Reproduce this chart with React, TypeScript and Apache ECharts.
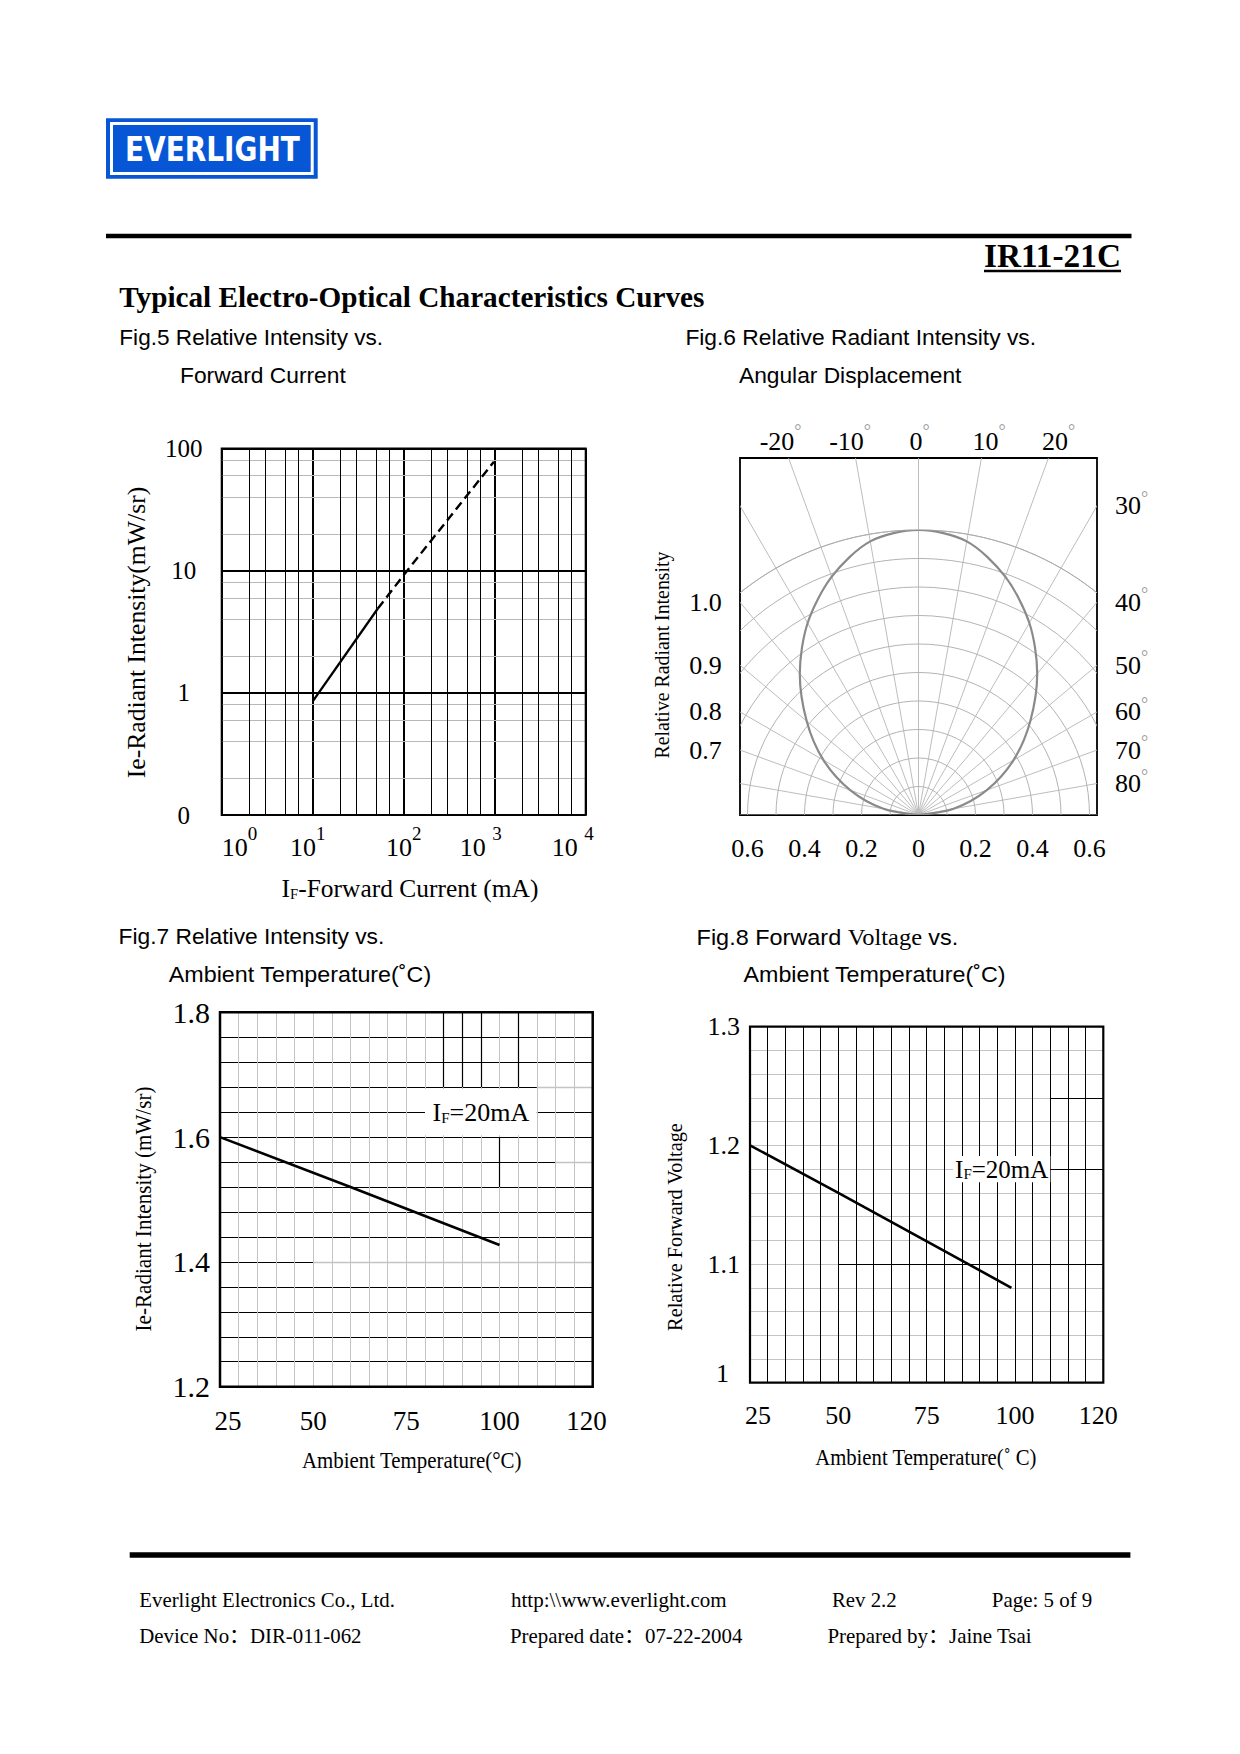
import React, { useEffect, useRef } from "react";
import * as echarts from "echarts";

const SERIF = "'Liberation Serif', 'Noto Sans CJK SC', serif";
const SANS = "'Liberation Sans', 'Noto Sans CJK SC', sans-serif";
const LOGO = "'DejaVu Sans', sans-serif";

// ---------- Fig.5 data ----------
const fig5XTicks = [1, 10, 100, 1000, 10000];
const fig5XExp = ["0", "1", "2", "3", "4"];
const fig5YTicks = [0.1, 1, 10, 100];
const fig5YLabels = ["0", "1", "10", "100"];
const fig5MinorXMult = [2, 3, 5, 7];
const fig5MinorYMult = [2, 4, 6, 8];
const fig5SolidIf = [10, 52];
const fig5SolidIe = [0.85, 4.9];
const fig5DashIf = [52, 100, 980];
const fig5DashIe = [4.9, 9.2, 78];

// ---------- Fig.6 data ----------
const fig6Angle = [0, 10, 20, 30, 40, 50, 60, 70, 80, 90];
const fig6Rel = [1.0, 0.975, 0.89, 0.778, 0.648, 0.512, 0.385, 0.255, 0.125, 0];
const fig6TopAngles = [-20, -10, 0, 10, 20];
const fig6SideAngles = [30, 40, 50, 60, 70, 80];
const fig6LeftLabels = ["1.0", "0.9", "0.8", "0.7"];
const fig6LeftAngles = [40, 50, 60, 70];
const fig6BottomVals = [-0.6, -0.4, -0.2, 0, 0.2, 0.4, 0.6];

// ---------- Fig.7 data ----------
const fig7Temp = [25, 60, 100];
const fig7Ie = [1.6, 1.52, 1.427];
const fig7XTicks = [25, 50, 75, 100, 120];
const fig7YTicks = [1.2, 1.4, 1.6, 1.8];

// ---------- Fig.8 data ----------
const fig8Temp = [25, 50, 99];
const fig8Vf = [1.2, 1.16, 1.08];
const fig8XTicks = [25, 50, 75, 100, 120];
const fig8YTicks = [1.0, 1.1, 1.2, 1.3];

// ---------- layout ----------
const G5 = { left: 221.7, top: 448.5, width: 364, height: 366.5 };
const G7 = { left: 220, top: 1012.3, width: 372.7, height: 374.4 };
const G8 = { left: 750, top: 1026.7, width: 353.3, height: 356 };
const P6 = { left: 740, top: 458, size: 357, r1: 285 };

// grid styling quirks of the original sheet
const fig7DarkV = [[85, 1.68, 1.8], [90, 1.68, 1.8], [95, 1.68, 1.8], [105, 1.68, 1.8], [100, 1.52, 1.6]];
const fig7LightH = [[1.4, 50, 125], [1.68, 110, 125], [1.56, 115, 125]];
const fig8DarkH = [[1.24, 110, 125], [1.18, 110, 125], [1.1, 50, 125]];

let ctx2d: any = null;
function measure(text: string, size: number, family: string, weight = "normal") {
  if (!ctx2d) ctx2d = document.createElement("canvas").getContext("2d");
  ctx2d.font = `${weight} ${size}px ${family}`;
  return ctx2d.measureText(text).width;
}

function txt(text: string, x: number, y: number, size: number, family: string, o: any = {}) {
  const weight = o.weight || "normal";
  const align = o.align || "left";
  const sx = o.w ? o.w / measure(text, size, family, weight) : 1;
  return {
    type: "text", x, y, z: 100, silent: true, rotation: o.rot || 0, scaleX: sx,
    style: {
      text, fontSize: size, fontFamily: family, fontWeight: weight, fill: o.fill || "#000",
      align, verticalAlign: "middle", textAlign: align, textVerticalAlign: "middle",
    },
  };
}

function richTxt(tokens: any[], x: number, y: number, o: any = {}) {
  const total = tokens.reduce((s, tk) => s + measure(tk.t, tk.size, tk.family, tk.weight || "normal"), 0);
  const sx = o.w ? o.w / total : 1;
  const rs: any = {};
  tokens.forEach((tk) => {
    rs[tk.k] = {
      fontSize: tk.size, fontFamily: tk.family, lineHeight: tk.lh, verticalAlign: tk.va || "middle",
      fill: tk.fill || "#000", color: tk.fill || "#000",
    };
  });
  const align = o.align || "left";
  return {
    type: "text", x, y, z: 100, silent: true, rotation: o.rot || 0, scaleX: sx,
    style: {
      text: tokens.map((tk) => `{${tk.k}|${tk.t}}`).join(""), rich: rs,
      align, verticalAlign: "middle", textAlign: align, textVerticalAlign: "middle",
    },
  };
}

function rect(x: number, y: number, w: number, h: number, style: any) {
  return { type: "rect", z: 99, silent: true, shape: { x, y, width: w, height: h }, style };
}
function line(x1: number, y1: number, x2: number, y2: number, lw: number, color = "#000") {
  return { type: "line", z: 99, silent: true, shape: { x1, y1, x2, y2 }, style: { stroke: color, lineWidth: lw } };
}

// number with a small grey degree ring at its upper right
function degLabel(num: string, x: number, y: number, align: string, ringDy: number) {
  const w = measure(num, 26, SERIF);
  const left = align === "center" ? x - w / 2 : x;
  return [
    txt(num, x, y, 26, SERIF, { align }),
    txt("°", left + w, y + ringDy + 4, 18, SERIF, { fill: "#9a9a9a" }),
  ];
}

const near = (arr: number[], v: number) => arr.findIndex((t) => Math.abs(t - v) < 1e-6);

function buildMain() {
  const d = Math.PI / 180;
  const cx = P6.left + P6.size / 2;
  const by = P6.top + P6.size;
  const W = P6.size / 2;

  const minorX: number[] = [];
  [1, 10, 100, 1000].forEach((dec) => fig5MinorXMult.forEach((m) => minorX.push(dec * m)));
  const minorY: number[] = [];
  [0.1, 1, 10].forEach((dec) => fig5MinorYMult.forEach((m) => minorY.push(+(dec * m).toFixed(4))));

  const graphics: any[] = [];
  // logo
  graphics.push(rect(106, 118.3, 211.7, 60.4, { fill: "#0756d6" }));
  graphics.push(rect(111.5, 123.5, 200.7, 50, { fill: "none", stroke: "#fff", lineWidth: 3 }));
  graphics.push(txt("EVERLIGHT", 125, 149.2, 34, LOGO, { weight: "bold", w: 175, fill: "#fff" }));
  // header
  graphics.push(line(106, 236, 1131.5, 236, 4.5));
  graphics.push(txt("IR11-21C", 984, 256, 33, SERIF, { weight: "bold", w: 137 }));
  graphics.push(line(984, 271, 1121, 271, 2.5));
  graphics.push(txt("Typical Electro-Optical Characteristics Curves", 119.3, 297.5, 29, SERIF, { weight: "bold", w: 585 }));
  graphics.push(txt("Fig.5 Relative Intensity vs.", 119.3, 337.6, 22.5, SANS, { w: 264 }));
  graphics.push(txt("Forward Current", 180, 375.7, 22.5, SANS, { w: 166 }));
  graphics.push(txt("Fig.6 Relative Radiant Intensity vs.", 685.4, 337.6, 22.5, SANS, { w: 351 }));
  graphics.push(txt("Angular Displacement", 739, 375.7, 22.5, SANS, { w: 222.5 }));
  graphics.push(txt("Fig.7 Relative Intensity vs.", 118.5, 937, 22.5, SANS, { w: 266 }));
  graphics.push(txt("Ambient Temperature(˚C)", 168.8, 974, 22.5, SANS, { w: 263 }));
  graphics.push(
    richTxt(
      [
        { k: "a", t: "Fig.8 Forward ", size: 22.5, family: SANS, lh: 26 },
        { k: "b", t: "Voltage ", size: 23.5, family: SERIF, lh: 26 },
        { k: "a", t: "vs.", size: 22.5, family: SANS, lh: 26 },
      ],
      696.6, 937, { w: 261.6 }
    )
  );
  graphics.push(txt("Ambient Temperature(˚C)", 743.5, 974, 22.5, SANS, { w: 262.8 }));

  // axis names
  graphics.push(txt("Ie-Radiant Intensity(mW/sr)", 136.7, 632.5, 26, SERIF, { rot: Math.PI / 2, align: "center", w: 291.7 }));
  graphics.push(
    richTxt(
      [
        { k: "i", t: "I", size: 26, family: SERIF, lh: 26, va: "bottom" },
        { k: "f", t: "F", size: 15, family: SERIF, lh: 19, va: "bottom" },
        { k: "i", t: "-Forward Current (mA)", size: 26, family: SERIF, lh: 26, va: "bottom" },
      ],
      410, 888, { align: "center", w: 257 }
    )
  );
  graphics.push(txt("Relative Radiant Intensity", 661.7, 655, 21, SERIF, { rot: Math.PI / 2, align: "center", w: 207 }));
  graphics.push(txt("Ie-Radiant Intensity (mW/sr)", 143.3, 1209, 23, SERIF, { rot: Math.PI / 2, align: "center", w: 245 }));
  graphics.push(txt("Ambient Temperature(°C)", 411.7, 1460, 24, SERIF, { align: "center", w: 220 }));
  graphics.push(txt("Relative Forward Voltage", 675, 1227, 22, SERIF, { rot: Math.PI / 2, align: "center", w: 208.3 }));
  graphics.push(txt("Ambient Temperature(˚ C)", 925.8, 1457, 24, SERIF, { align: "center", w: 221.7 }));

  // fig6 labels (top angle labels are spaced evenly, about 6.95 px per degree)
  fig6TopAngles.forEach((a) => graphics.push(...degLabel(String(a), cx - 2.5 + a * 6.95, 441, "center", -14)));
  fig6SideAngles.forEach((a) => graphics.push(...degLabel(String(a), 1115, by - W / Math.tan(a * d), "left", -12)));
  fig6LeftLabels.forEach((s, i) =>
    graphics.push(txt(s, 721.7, by - W / Math.tan(fig6LeftAngles[i] * d), 26, SERIF, { align: "right" }))
  );
  fig6BottomVals.forEach((v) =>
    graphics.push(txt(v === 0 ? "0" : Math.abs(v).toFixed(1), cx + v * P6.r1, 848.3, 26, SERIF, { align: "center" }))
  );

  // plot frames
  graphics.push(rect(G5.left, G5.top, G5.width, G5.height, { fill: "none", stroke: "#000", lineWidth: 2 }));
  graphics.push(rect(P6.left, P6.top, P6.size, P6.size, { fill: "none", stroke: "#000", lineWidth: 1.8 }));
  graphics.push(rect(G7.left, G7.top, G7.width, G7.height, { fill: "none", stroke: "#000", lineWidth: 2.5 }));
  graphics.push(rect(G8.left, G8.top, G8.width, G8.height, { fill: "none", stroke: "#000", lineWidth: 2.2 }));

  // footer
  graphics.push(line(129.7, 1555, 1130.4, 1555, 5.5));
  graphics.push(txt("Everlight Electronics Co., Ltd.", 139.3, 1600, 20.5, SERIF, { w: 255.7 }));
  graphics.push(txt("Device No：DIR-011-062", 139.3, 1636, 20.5, SERIF, { w: 222.3 }));
  graphics.push(txt("http:\\\\www.everlight.com", 511, 1600, 20.5, SERIF, { w: 215.8 }));
  graphics.push(txt("Prepared date：07-22-2004", 509.9, 1636, 20.5, SERIF, { w: 232.5 }));
  graphics.push(txt("Rev 2.2", 831.9, 1600, 20.5, SERIF, { w: 64.8 }));
  graphics.push(txt("Page: 5 of 9", 991.8, 1600, 20.5, SERIF, { w: 100.6 }));
  graphics.push(txt("Prepared by：Jaine Tsai", 827.4, 1636, 20.5, SERIF, { w: 204.6 }));

  const off = { axisLine: { show: false }, axisTick: { show: false } };
  const mlBase = { silent: true, symbol: ["none", "none"], label: { show: false }, animation: false, emphasis: { disabled: true } };
  const ifLabel = (size: number) => ({
    show: true, position: "inside", color: "#000",
    formatter: () => "{i|I}{f|F}{t|=20mA}",
    rich: {
      i: { fontSize: size, fontFamily: SERIF, lineHeight: size, verticalAlign: "bottom", color: "#000" },
      f: { fontSize: 15, fontFamily: SERIF, lineHeight: 19, verticalAlign: "bottom", color: "#000" },
      t: { fontSize: size, fontFamily: SERIF, lineHeight: size, verticalAlign: "bottom", color: "#000" },
    },
  });
  // temperature tick labels: the first and the 120 labels sit a little to the right in the original
  const tempLabel = (ticks: number[], size: number) => ({
    formatter: (v: number) => {
      if (near(ticks, v) < 0) return "";
      const s = String(Math.round(v));
      if (Math.abs(v - 25) < 1e-6) return `{l|${s}}`;
      if (Math.abs(v - 120) < 1e-6) return `{r|${s}}`;
      return `{n|${s}}`;
    },
    rich: {
      n: { fontSize: size, fontFamily: SERIF, color: "#000" },
      l: { fontSize: size, fontFamily: SERIF, color: "#000", padding: [0, 0, 0, 16] },
      r: { fontSize: size, fontFamily: SERIF, color: "#000", padding: [0, 0, 0, 25] },
    },
  });
  const expRich = (pad: number) => ({ fontSize: 19, fontFamily: SERIF, lineHeight: 14, verticalAlign: "top", color: "#000", padding: [0, pad, 0, 0] });

  return {
    animation: false,
    backgroundColor: "#fff",
    grid: [
      { ...G5, show: false, outerBoundsMode: "none" },
      { ...G7, show: false, outerBoundsMode: "none" },
      { ...G8, show: false, outerBoundsMode: "none" },
    ],
    xAxis: [
      {
        gridIndex: 0, type: "log", logBase: 10, min: 1, max: 10000, ...off,
        splitLine: { show: true, lineStyle: { color: "#000", width: 2 } },
        axisLabel: {
          color: "#000", margin: 9, alignMinLabel: "left", alignMaxLabel: "center",
          formatter: (v: number) => {
            const i = fig5XTicks.findIndex((t) => Math.abs(Math.log10(t) - Math.log10(v)) < 0.01);
            if (i < 0) return "";
            const sk = i === 1 ? "s1" : i === 3 ? "s3" : i === 4 ? "s4" : "s";
            return (i >= 3 ? "{b|10 }" : "{b|10}") + `{${sk}|${fig5XExp[i]}}`;
          },
          rich: {
            b: { fontSize: 26, fontFamily: SERIF, lineHeight: 46, verticalAlign: "middle", color: "#000" },
            s: expRich(0),
            s1: expRich(10),
            s3: expRich(28),
            s4: expRich(26),
          },
        },
      },
      {
        gridIndex: 1, type: "value", min: 25, max: 125, interval: 5, ...off,
        splitLine: { show: true, lineStyle: { color: "#c4c4c4", width: 1 } },
        axisLabel: { color: "#000", fontSize: 27, fontFamily: SERIF, margin: 21, ...tempLabel(fig7XTicks, 27) },
      },
      {
        gridIndex: 2, type: "value", min: 25, max: 125, interval: 5, ...off,
        splitLine: { show: true, lineStyle: { color: "#000", width: 1 } },
        axisLabel: { color: "#000", fontSize: 26, fontFamily: SERIF, margin: 20, ...tempLabel(fig8XTicks, 26) },
      },
    ],
    yAxis: [
      {
        gridIndex: 0, type: "log", logBase: 10, min: 0.1, max: 100, ...off,
        splitLine: { show: true, lineStyle: { color: "#000", width: 2 } },
        axisLabel: {
          color: "#000", fontSize: 25, fontFamily: SERIF, margin: 38, align: "center",
          formatter: (v: number) => {
            const i = fig5YTicks.findIndex((t) => Math.abs(Math.log10(t) - Math.log10(v)) < 0.01);
            return i < 0 ? "" : fig5YLabels[i];
          },
        },
      },
      {
        gridIndex: 1, type: "value", min: 1.2, max: 1.8, interval: 0.04, ...off,
        splitLine: { show: true, lineStyle: { color: "#000", width: 1 } },
        axisLabel: {
          color: "#000", fontSize: 30, fontFamily: SERIF, margin: 10,
          formatter: (v: number) => (near(fig7YTicks, v) >= 0 ? v.toFixed(1) : ""),
        },
      },
      {
        gridIndex: 2, type: "value", min: 1.0, max: 1.3, interval: 0.02, ...off,
        splitLine: { show: true, lineStyle: { color: "#c4c4c4", width: 1 } },
        axisLabel: {
          color: "#000", fontSize: 26, fontFamily: SERIF, margin: 10,
          formatter: (v: number) => {
            const i = near(fig8YTicks, v);
            if (i < 0) return "";
            return Math.abs(v - 1) < 1e-6 ? "{o|1}" : `{n|${v.toFixed(1)}}`;
          },
          rich: {
            n: { fontSize: 26, fontFamily: SERIF, color: "#000" },
            o: { fontSize: 26, fontFamily: SERIF, color: "#000", padding: [0, 11, 18, 0] },
          },
        },
      },
    ],
    series: [
      // Fig.5 minor grid
      {
        type: "line", xAxisIndex: 0, yAxisIndex: 0, data: [], silent: true, z: 1,
        markLine: {
          ...mlBase,
          data: [
            ...minorY.map((v) => ({ yAxis: v, lineStyle: { color: "#b8b8b8", width: 1, type: "solid" } })),
            ...minorX.map((v) => ({ xAxis: v, lineStyle: { color: "#000", width: 1, type: "solid" } })),
          ],
        },
      },
      {
        type: "line", xAxisIndex: 0, yAxisIndex: 0, z: 5, silent: true, symbol: "none", showSymbol: false,
        data: fig5SolidIf.map((x, i) => [x, fig5SolidIe[i]]),
        lineStyle: { color: "#000", width: 2.3 },
      },
      {
        type: "line", xAxisIndex: 0, yAxisIndex: 0, z: 5, silent: true, symbol: "none", showSymbol: false,
        data: fig5DashIf.map((x, i) => [x, fig5DashIe[i]]),
        lineStyle: { color: "#000", width: 2.4, type: [9, 5] },
      },
      // Fig.7
      {
        type: "line", xAxisIndex: 1, yAxisIndex: 1, data: [], silent: true, z: 2,
        markLine: {
          ...mlBase, lineStyle: { color: "#000", width: 1.2, type: "solid" },
          data: fig7DarkV.map((s) => [{ coord: [s[0], s[1]] }, { coord: [s[0], s[2]] }]),
        },
      },
      {
        type: "line", xAxisIndex: 1, yAxisIndex: 1, data: [], silent: true, z: 2,
        markLine: {
          ...mlBase, lineStyle: { color: "#c4c4c4", width: 1.4, type: "solid" },
          data: fig7LightH.map((s) => [{ coord: [s[1], s[0]] }, { coord: [s[2], s[0]] }]),
        },
      },
      {
        type: "line", xAxisIndex: 1, yAxisIndex: 1, data: [], silent: true, z: 3,
        markArea: {
          silent: true, itemStyle: { color: "#fff" }, label: ifLabel(26),
          data: [[{ coord: [80, 1.603] }, { coord: [110, 1.677] }]],
        },
      },
      {
        type: "line", xAxisIndex: 1, yAxisIndex: 1, z: 5, silent: true, symbol: "none", showSymbol: false,
        data: fig7Temp.map((x, i) => [x, fig7Ie[i]]),
        lineStyle: { color: "#000", width: 2.6 },
      },
      // Fig.8
      {
        type: "line", xAxisIndex: 2, yAxisIndex: 2, data: [], silent: true, z: 2,
        markLine: {
          ...mlBase, lineStyle: { color: "#000", width: 1.2, type: "solid" },
          data: fig8DarkH.map((s) => [{ coord: [s[1], s[0]] }, { coord: [s[2], s[0]] }]),
        },
      },
      {
        type: "line", xAxisIndex: 2, yAxisIndex: 2, data: [], silent: true, z: 3,
        markArea: {
          silent: true, itemStyle: { color: "#fff" }, label: ifLabel(25),
          data: [[{ coord: [82.5, 1.169] }, { coord: [110, 1.191] }]],
        },
      },
      {
        type: "line", xAxisIndex: 2, yAxisIndex: 2, z: 5, silent: true, symbol: "none", showSymbol: false,
        data: fig8Temp.map((x, i) => [x, fig8Vf[i]]),
        lineStyle: { color: "#000", width: 2.6 },
      },
    ],
    graphic: { elements: graphics },
  };
}

function buildPolar() {
  const n = fig6Angle.length;
  const left = fig6Angle.slice().reverse().map((a, i) => [fig6Rel[n - 1 - i], -a]);
  const right = fig6Angle.slice(1).map((a, i) => [fig6Rel[i + 1], a]);
  const data = left.concat(right);
  const off = { axisTick: { show: false }, axisLabel: { show: false } };
  return {
    animation: false,
    backgroundColor: "transparent",
    polar: [
      { center: ["50%", "100%"], radius: P6.r1 },
      { center: ["50%", "100%"], radius: 440 },
    ],
    angleAxis: [
      {
        polarIndex: 0, type: "value", min: -180, max: 180, startAngle: 270, clockwise: true, ...off,
        axisLine: { show: true, lineStyle: { color: "#aaaaaa", width: 0.9 } }, splitLine: { show: false },
      },
      {
        polarIndex: 1, type: "value", min: -180, max: 180, interval: 10, startAngle: 270, clockwise: true, ...off,
        axisLine: { show: false },
        splitLine: { show: true, lineStyle: { color: "#b5b5b5", width: 0.9 } },
      },
    ],
    radiusAxis: [
      {
        polarIndex: 0, type: "value", min: 0, max: 1, interval: 0.1, ...off, axisLine: { show: false },
        splitLine: { show: true, lineStyle: { color: "#aaaaaa", width: 0.9 } },
      },
      { polarIndex: 1, type: "value", min: 0, max: 1, ...off, axisLine: { show: false }, splitLine: { show: false } },
    ],
    series: [
      {
        type: "line", coordinateSystem: "polar", polarIndex: 0, data, smooth: 0.3,
        symbol: "none", showSymbol: false, silent: true,
        lineStyle: { color: "#8a8a8a", width: 2.2 },
      },
    ],
  };
}

export default function App() {
  const mainRef = useRef<HTMLDivElement>(null);
  const polarRef = useRef<HTMLDivElement>(null);
  useEffect(() => {
    const main = echarts.init(mainRef.current as HTMLDivElement, null, { renderer: "svg" });
    const polar = echarts.init(polarRef.current as HTMLDivElement, null, { renderer: "svg" });
    main.setOption(buildMain() as any);
    polar.setOption(buildPolar() as any);
    return () => {
      main.dispose();
      polar.dispose();
    };
  }, []);
  return (
    <div style={{ position: "absolute", left: 0, top: 0, width: 1240, height: 1754, background: "#fff" }}>
      <div ref={mainRef} style={{ position: "absolute", left: 0, top: 0, width: 1240, height: 1754 }} />
      <div
        ref={polarRef}
        style={{ position: "absolute", left: P6.left, top: P6.top, width: P6.size, height: P6.size, overflow: "hidden" }}
      />
    </div>
  );
}
